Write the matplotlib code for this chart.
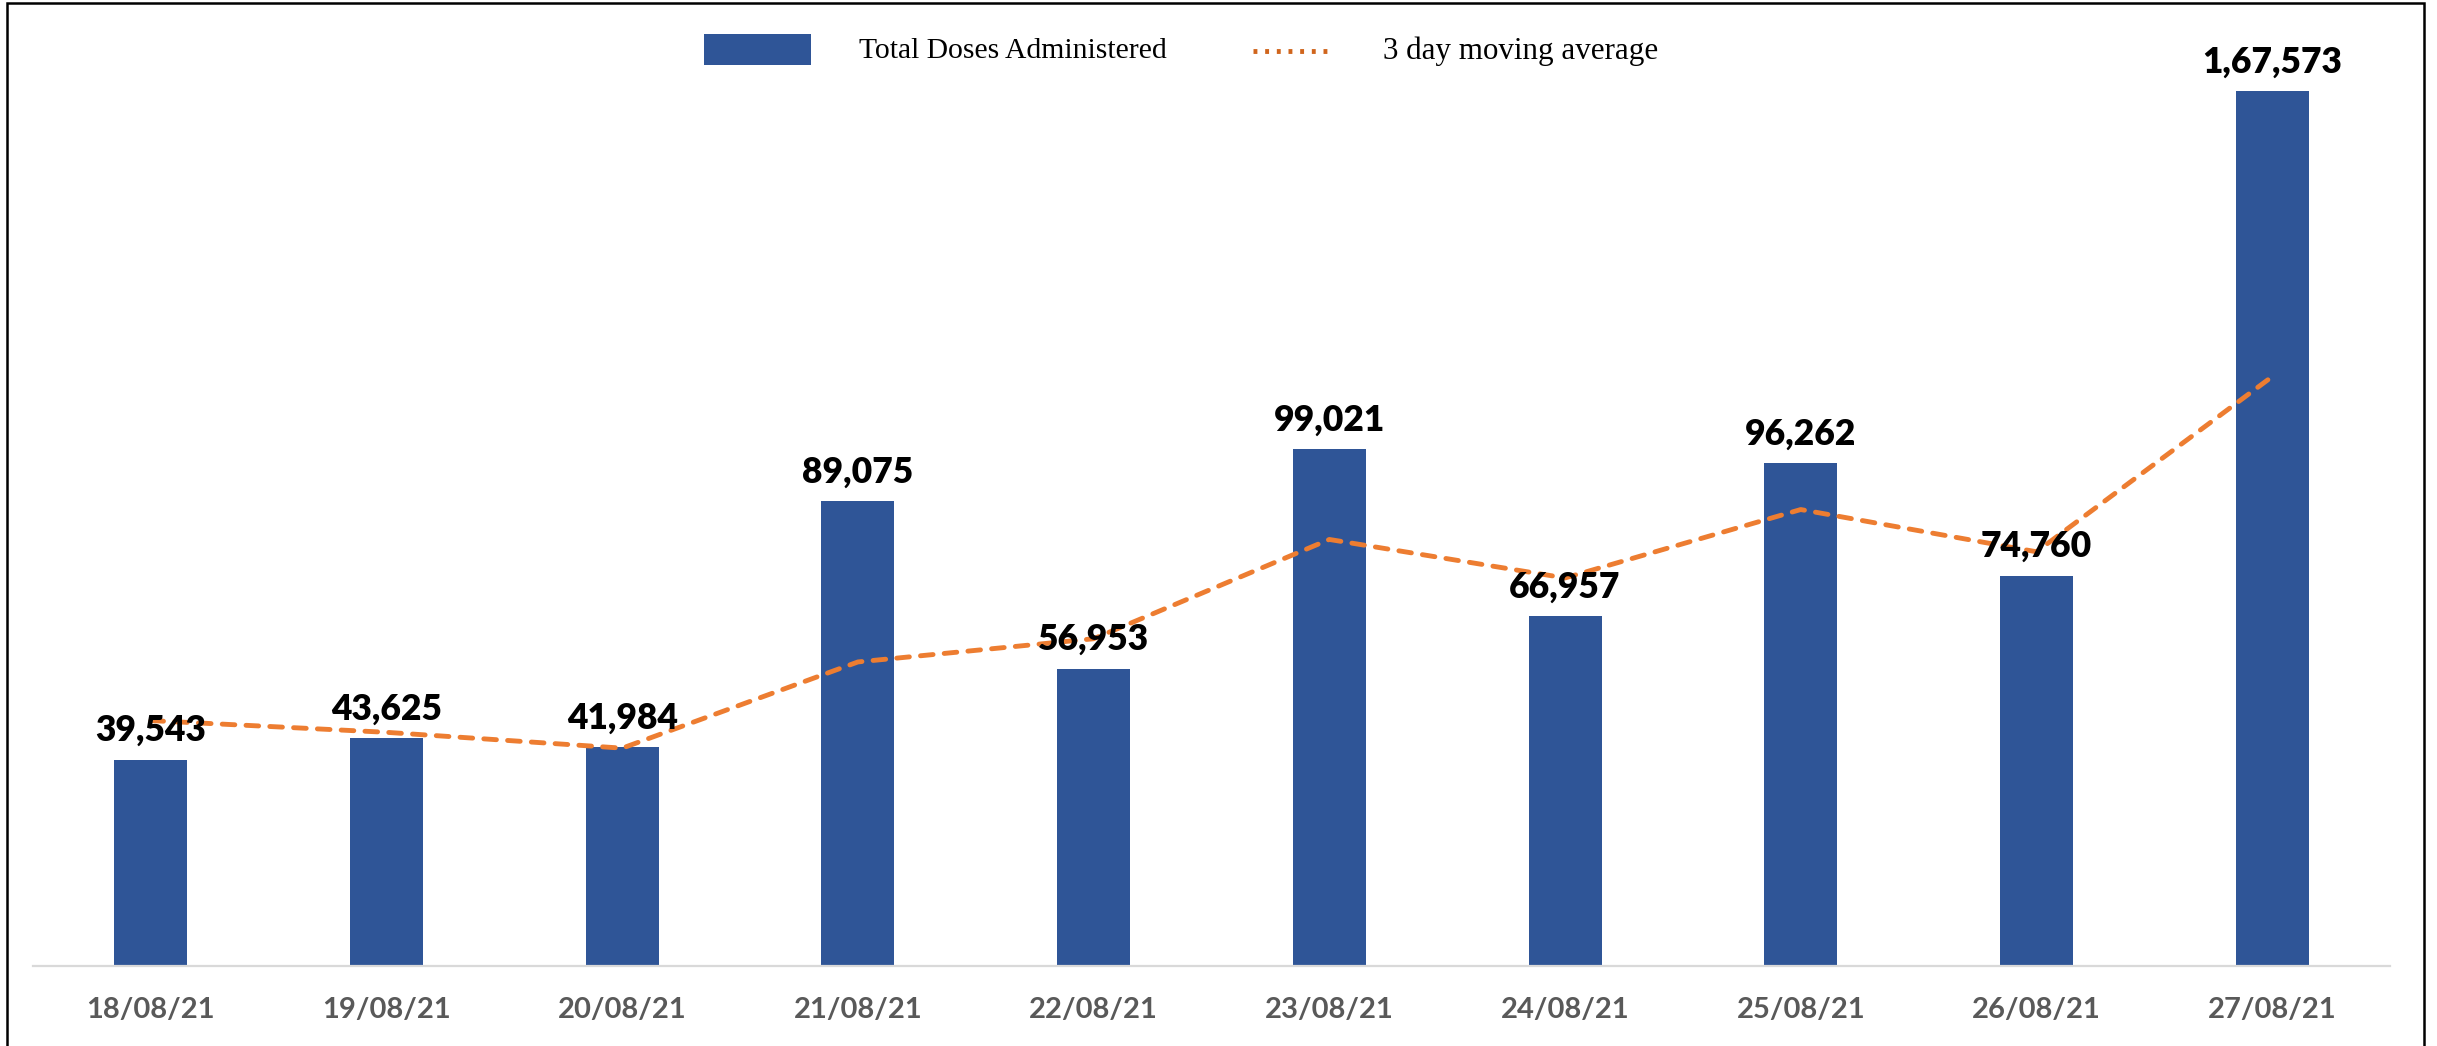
import matplotlib
matplotlib.use("Agg")
import matplotlib.pyplot as plt
from matplotlib.patches import Rectangle
from matplotlib.lines import Line2D

# ---- data ----
dates = ["18/08/21", "19/08/21", "20/08/21", "21/08/21", "22/08/21",
         "23/08/21", "24/08/21", "25/08/21", "26/08/21", "27/08/21"]
total_doses = [39543, 43625, 41984, 89075, 56953, 99021, 66957, 96262, 74760, 167573]
moving_avg = [47000, 44750, 41717, 58228, 62671, 81683, 74310, 87413, 79326, 112865]
dose_labels = ["39,543", "43,625", "41,984", "89,075", "56,953",
               "99,021", "66,957", "96,262", "74,760", "1,67,573"]
legend_bar = "Total Doses Administered"
legend_line = "3 day moving average"

W, H = 2437, 1046
DPI = 100
fig = plt.figure(figsize=(W / DPI, H / DPI), dpi=DPI)
fig.patch.set_facecolor("white")

ax = fig.add_axes([33 / W, (H - 966) / H, 2357 / W, 956 / H])
x = list(range(len(dates)))
bar_color = "#2F5597"
line_color = "#ED7D31"

ax.bar(x, total_doses, width=0.31, color=bar_color, zorder=2)
ax.plot(x, moving_avg, color=line_color, lw=3.5, dashes=(2.6, 2.3),
        dash_capstyle="round", solid_capstyle="round", zorder=3)

for xi, v, lab in zip(x, total_doses, dose_labels):
    ax.annotate(lab, (xi, v), xytext=(0, 9), textcoords="offset points",
                ha="center", va="bottom", fontsize=25.5, fontweight="heavy",
                family="Lato", color="black", zorder=5)

ax.set_xlim(-0.5, 9.5)
ax.set_ylim(0, 956 * 191.5)
ax.set_xticks(x)
ax.set_xticklabels(dates, fontsize=21, fontweight="bold", family="Lato", color="#595959")
ax.tick_params(axis="x", length=0, pad=22)
ax.set_yticks([])
for s in ["top", "left", "right"]:
    ax.spines[s].set_visible(False)
ax.spines["bottom"].set_color("#D9D9D9")
ax.spines["bottom"].set_linewidth(1.6)
ax.set_facecolor("none")

# ---- legend (manual placement) ----
fig.patches.append(Rectangle((704 / W, 1 - 65 / H), 107 / W, 31 / H,
                             transform=fig.transFigure, facecolor=bar_color,
                             edgecolor="none"))
fig.text(859 / W, 1 - 51 / H, legend_bar, family="Liberation Serif", fontsize=21.3,
         va="center", ha="left", color="black")
fig.lines.append(Line2D([1253 / W, 1334 / W], [1 - 51 / H, 1 - 51 / H],
                        transform=fig.transFigure, color="#D0651C", lw=3.5,
                        dashes=(0.8, 1.6), dash_capstyle="butt"))
fig.text(1383 / W, 1 - 51 / H, legend_line, family="Liberation Serif", fontsize=22.3,
         va="center", ha="left", color="black")

# ---- outer border ----
fig.patches.append(Rectangle((7 / W, -0.05), (2424 - 7) / W, 1.05 - 3 / H,
                             transform=fig.transFigure, facecolor="none",
                             edgecolor="black", lw=1.8))

fig.savefig("out.png", dpi=DPI)
